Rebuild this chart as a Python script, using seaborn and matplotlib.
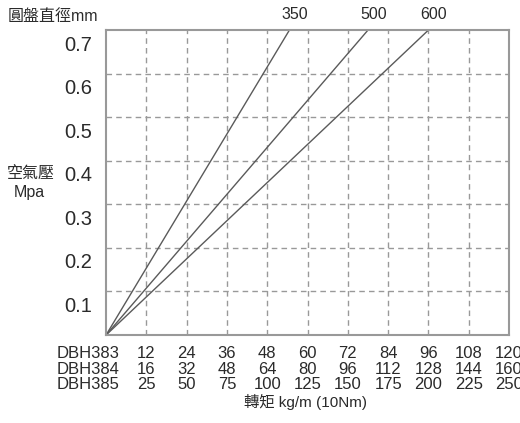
import pandas as pd
import seaborn as sns
from matplotlib import pyplot as plt
from matplotlib.transforms import ScaledTranslation

# torque columns (kg-m) for the three models
dbh383 = [12, 24, 36, 48, 60, 72, 84, 96, 108, 120]
dbh384 = [16, 32, 48, 64, 80, 96, 112, 128, 144, 160]
dbh385 = [25, 50, 75, 100, 125, 150, 175, 200, 225, 250]
models = ['DBH383', 'DBH384', 'DBH385']

# disc diameters and the DBH383 torque they reach at 0.7 MPa
diameters = ['350', '500', '600']
torque_at_top = [54.6, 78, 96]
pressure = [0.0, 0.7]
yticks = [0.1, 0.2, 0.3, 0.4, 0.5, 0.6, 0.7]

rows = []
for d, t in zip(diameters, torque_at_top):
    rows.append({'diameter': d, 'torque': 0, 'pressure': pressure[0]})
    rows.append({'diameter': d, 'torque': t, 'pressure': pressure[1]})
lines = pd.DataFrame(rows)

sns.set_style('white')
plt.rcParams['font.family'] = ['Liberation Sans', 'Noto Sans CJK TC']
txt = '#2a2a2a'

fig = plt.figure(figsize=(5.2, 4.23), dpi=100)
ax = fig.add_axes([0.204, 0.208, 0.775, 0.721])

sns.lineplot(data=lines, x='torque', y='pressure', hue='diameter',
             palette=['#5a5a5a'] * 3, linewidth=1.0, legend=False, ax=ax)

ax.set_xlim(0, 120)
ax.set_ylim(0, 0.7)
ax.set_xticks(dbh383)
ax.set_xticklabels([f'{a}\n{b}\n{c}' for a, b, c in zip(dbh383, dbh384, dbh385)],
                   fontsize=12, color=txt, linespacing=1.05)
ax.set_yticks(yticks)
ax.set_yticklabels([f'{v:.1f}' for v in yticks], fontsize=14.5, color=txt)
ax.tick_params(axis='x', length=0, pad=8)
ax.tick_params(axis='y', length=0, pad=10)
ax.set_xlabel('')
ax.set_ylabel('')

# the pressure labels sit a bit below their grid lines in the original
shift = ScaledTranslation(0, -0.13, fig.dpi_scale_trans)
for lab in ax.get_yticklabels():
    lab.set_transform(lab.get_transform() + shift)

for v in dbh383[:-1]:
    ax.axvline(v, color='#999999', lw=1, ls=(0, (4, 3)), zorder=0)
for v in yticks[:-1]:
    ax.axhline(v, color='#999999', lw=1, ls=(0, (4, 3)), zorder=0)

for s in ax.spines.values():
    s.set_color('#999999')
    s.set_linewidth(1.5)

# diameter labels above line ends
for d, t in zip(diameters, torque_at_top):
    ax.annotate(d, xy=(t, 0.7), xytext=(4, 11), textcoords='offset points',
                ha='center', va='center', fontsize=11.5, color=txt,
                annotation_clip=False)

# model names left of the torque rows
ax.annotate('\n'.join(models), xy=(-14.6, 0), xycoords=ax.get_xaxis_transform(),
            xytext=(0, -8), textcoords='offset points', ha='left', va='top',
            fontsize=12, color=txt, linespacing=1.05, annotation_clip=False)

fig.text(8 / 520, 1 - 17 / 423, '圓盤直徑mm', fontsize=11.5, color=txt, va='center')
fig.text(31 / 520, 1 - 173 / 423, '空氣壓', fontsize=11.5, color=txt,
         ha='center', va='center')
fig.text(29 / 520, 1 - 192 / 423, 'Mpa', fontsize=11.5, color=txt,
         ha='center', va='center')
fig.text(305 / 520, 1 - 402 / 423, '轉矩 kg/m (10Nm)', fontsize=11, color=txt,
         ha='center', va='center')

fig.savefig('out.png', dpi=100)
